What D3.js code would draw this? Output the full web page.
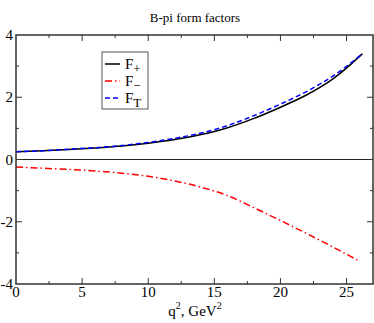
<!DOCTYPE html>
<html>
<head>
<meta charset="utf-8">
<script src="https://cdn.jsdelivr.net/npm/d3@7"></script>
<style>
body { margin: 0; background: #fff; }
svg text { font-family: "Liberation Serif", "Times New Roman", "Nimbus Roman", "DejaVu Serif", serif; }
</style>
</head>
<body>
<svg id="chart"></svg>
<script>
var width = 374;
var height = 323;

// values
var qFplus = [0, 2, 4, 6, 8, 10, 12, 14, 16, 18, 20, 22, 24, 26, 26.2];
var fPlus  = [0.25, 0.28, 0.32, 0.37, 0.43, 0.52, 0.64, 0.80, 1.02, 1.32, 1.68, 2.08, 2.60, 3.32, 3.40];
var fT     = [0.25, 0.28, 0.33, 0.38, 0.45, 0.55, 0.68, 0.85, 1.09, 1.41, 1.78, 2.19, 2.69, 3.33, 3.40];
var qFminus = [0, 2, 4, 6, 8, 10, 12, 14, 16, 18, 20, 22, 24, 25.9];
var fMinus  = [-0.24, -0.28, -0.32, -0.37, -0.44, -0.54, -0.69, -0.89, -1.16, -1.55, -1.96, -2.38, -2.82, -3.25];
var xTicks = [0, 5, 10, 15, 20, 25];
var yTicks = [-4, -2, 0, 2, 4];

var margin = {left: 16, right: 1, top: 35, bottom: 39};

var svg = d3.select("#chart")
.attr("width", width)
.attr("height", height);

var x = d3.scaleLinear().domain([0, 27]).range([margin.left, width - margin.right]);
var y = d3.scaleLinear().domain([-4, 4]).range([height - margin.bottom, margin.top]);

svg.append("text")
.attr("x", 195)
.attr("y", 22)
.attr("text-anchor", "middle")
.style("font-size", "13px")
.text("B-pi form factors");

// zero line
svg.append("line")
.attr("x1", x(0)).attr("x2", x(27))
.attr("y1", y(0)).attr("y2", y(0))
.attr("stroke", "#222")
.attr("stroke-width", 1);

var line = d3.line()
.x(function (d) { return x(d[0]); })
.y(function (d) { return y(d[1]); })
.curve(d3.curveMonotoneX);

function drawSeries (qs, vs, color, dash) {
	svg.append("path")
	.datum(d3.zip(qs, vs))
	.attr("d", line)
	.attr("fill", "none")
	.attr("stroke", color)
	.attr("stroke-width", 1.5)
	.attr("stroke-dasharray", dash);
}

drawSeries(qFminus, fMinus, "#ff0000", "7,3,1.5,3");
drawSeries(qFplus, fPlus, "#000000", null);
drawSeries(qFplus, fT, "#0000ff", "5,3");

// frame
svg.append("rect")
.attr("x", x(0)).attr("y", y(4))
.attr("width", x(27) - x(0))
.attr("height", y(-4) - y(4))
.attr("fill", "none")
.attr("stroke", "#333")
.attr("stroke-width", 1.5);

// ticks, pointing inward on all four sides
var xMinor = d3.range(2.5, 27, 5);
var yMinor = [-3, -1, 1, 3];

function tickX (v, len) {
	svg.append("line").attr("x1", x(v)).attr("x2", x(v))
	.attr("y1", y(-4)).attr("y2", y(-4) - len).attr("stroke", "#333");
	svg.append("line").attr("x1", x(v)).attr("x2", x(v))
	.attr("y1", y(4)).attr("y2", y(4) + len).attr("stroke", "#333");
}
function tickY (v, len) {
	svg.append("line").attr("x1", x(0)).attr("x2", x(0) + len)
	.attr("y1", y(v)).attr("y2", y(v)).attr("stroke", "#333");
	svg.append("line").attr("x1", x(27)).attr("x2", x(27) - len)
	.attr("y1", y(v)).attr("y2", y(v)).attr("stroke", "#333");
}
xTicks.forEach(function (v) { if (v > 0) tickX(v, 6); });
xMinor.forEach(function (v) { tickX(v, 3); });
yTicks.forEach(function (v) { if (v > -4 && v < 4) tickY(v, 6); });
yMinor.forEach(function (v) { tickY(v, 3); });

svg.selectAll(".xlab")
.data(xTicks)
.enter()
.append("text")
.attr("x", function (d) { return x(d); })
.attr("y", 297)
.attr("text-anchor", "middle")
.style("font-size", "15px")
.text(function (d) { return d; });

svg.selectAll(".ylab")
.data(yTicks)
.enter()
.append("text")
.attr("x", 13)
.attr("y", function (d) { return y(d) + 5; })
.attr("text-anchor", "end")
.style("font-size", "15px")
.text(function (d) { return d; });

// x axis title
var xt = svg.append("text")
.attr("x", 195)
.attr("y", 316)
.attr("text-anchor", "middle")
.style("font-size", "15px");
xt.append("tspan").text("q");
xt.append("tspan").attr("dy", -7).style("font-size", "10px").text("2");
xt.append("tspan").attr("dy", 7).text(", GeV");
xt.append("tspan").attr("dy", -7).style("font-size", "10px").text("2");

// legend
var legend = svg.append("g");
legend.append("rect")
.attr("x", 102).attr("y", 52)
.attr("width", 46).attr("height", 57)
.attr("fill", "#fff")
.attr("stroke", "#555")
.attr("stroke-width", 1);

var legendItems = [
	{sub: "+", color: "#000000", dash: null, cy: 64},
	{sub: "\u2212", color: "#ff0000", dash: "7,3,1.5,3", cy: 81},
	{sub: "T", color: "#0000ff", dash: "5,3", cy: 98}
];

legendItems.forEach(function (d) {
	legend.append("line")
	.attr("x1", 105).attr("x2", 120)
	.attr("y1", d.cy).attr("y2", d.cy)
	.attr("stroke", d.color)
	.attr("stroke-width", 1.5)
	.attr("stroke-dasharray", d.dash);
	var t = legend.append("text")
	.attr("x", 125)
	.attr("y", d.cy + 5)
	.style("font-size", "15px");
	t.append("tspan").text("F");
	t.append("tspan").attr("dy", 4).style("font-size", "13px").text(d.sub);
});
</script>
</body>
</html>
